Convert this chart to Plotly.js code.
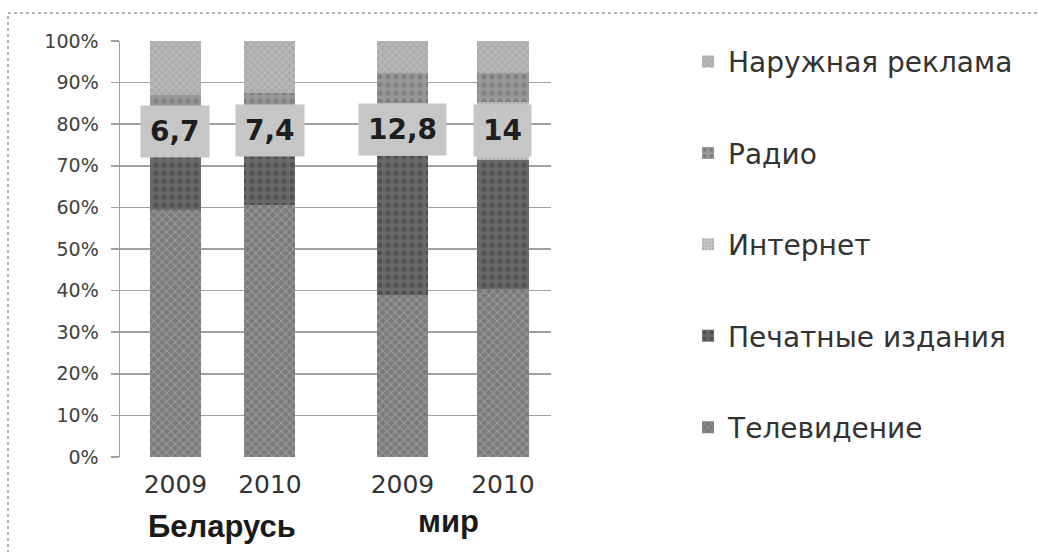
<!DOCTYPE html>
<html>
<head>
<meta charset="utf-8">
<script src="https://cdn.plot.ly/plotly-3.0.1.min.js"></script>
<style>html,body{margin:0;padding:0;background:#fff;}#chart{width:1039px;height:552px;}</style>
</head>
<body>
<div id="chart"></div>
<script>
const groups = ["Беларусь", "Беларусь", "мир", "мир"];
const years = ["2009", "2010", "2009", "2010"];
const seriesNames = ["Телевидение", "Печатные издания", "Интернет", "Радио", "Наружная реклама"];
const tv = [59.4, 60.6, 38.9, 40.3];
const printMedia = [15.6, 14.1, 33.4, 31.1];
const internet = [6.7, 7.4, 12.8, 14.0];
const radio = [5.3, 5.3, 7.3, 7.0];
const outdoor = [13.0, 12.6, 7.6, 7.6];
const internetLabels = ["6,7", "7,4", "12,8", "14"];

const seriesValues = [tv, printMedia, internet, radio, outdoor];
const styles = [
  {bg: "#7a7a7a", fg: "#9c9c9c", shape: "x", size: 6},
  {bg: "#696969", fg: "#505050", shape: ".", size: 8},
  {bg: "#c6c6c6", fg: "#aaaaaa", shape: ".", size: 4},
  {bg: "#989898", fg: "#7e7e7e", shape: ".", size: 8},
  {bg: "#acacac", fg: "#c2c2c2", shape: "x", size: 5}
];
const groupNames = ["Беларусь", "мир"];
const axes = ["x", "x2"];
const widths = [0.54, 0.51];

const traces = [];
seriesValues.forEach((vals, s) => {
  groupNames.forEach((g, gi) => {
    const idx = groups.map((v, i) => v === g ? i : -1).filter(i => i >= 0);
    traces.push({
      type: "bar",
      name: seriesNames[s],
      legendgroup: seriesNames[s],
      legendrank: seriesValues.length - s,
      showlegend: gi === 0,
      x: idx.map(i => years[i]),
      y: idx.map(i => vals[i]),
      xaxis: axes[gi],
      yaxis: "y",
      width: widths[gi],
      marker: {
        color: styles[s].bg,
        line: {width: 0},
        pattern: {shape: styles[s].shape, fgcolor: styles[s].fg, bgcolor: styles[s].bg, size: styles[s].size, solidity: 0.3, fillmode: "replace"}
      },
      hoverinfo: "skip"
    });
  });
});

const annotations = [];
groups.forEach((g, i) => {
  const gi = groupNames.indexOf(g);
  const posInGroup = groups.slice(0, i).filter(v => v === g).length;
  annotations.push({
    xref: axes[gi], yref: "y",
    x: posInGroup, y: tv[i] + printMedia[i] + internet[i] / 2,
    xanchor: "center", yanchor: "middle",
    text: "<b>" + internetLabels[i] + "</b>",
    showarrow: false,
    bgcolor: "#c6c6c6",
    borderpad: 9,
    font: {family: "DejaVu Sans", size: 28, color: "#1e1e1e"}
  });
});
annotations.push({
  xref: "paper", yref: "paper", x: 0.237, y: -0.168, xanchor: "center", yanchor: "middle",
  text: "<b>Беларусь</b>", showarrow: false,
  font: {family: "Liberation Sans", size: 31, color: "#1a1a1a"}
});
annotations.push({
  xref: "paper", yref: "paper", x: 0.763, y: -0.156, xanchor: "center", yanchor: "middle",
  text: "<b>мир</b>", showarrow: false,
  font: {family: "Liberation Sans", size: 31, color: "#1a1a1a"}
});

const xcommon = {
  type: "category",
  showgrid: false,
  zeroline: false,
  showline: false,
  ticks: "",
  ticklabelstandoff: 10,
  tickfont: {family: "DejaVu Sans", size: 25, color: "#333333"},
  fixedrange: true
};

const layout = {
  width: 1039,
  height: 552,
  margin: {l: 120, r: 488, t: 41, b: 95},
  paper_bgcolor: "#ffffff",
  plot_bgcolor: "#ffffff",
  barmode: "stack",
  xaxis: Object.assign({}, xcommon, {domain: [0, 0.501], range: [-0.587, 1.698], anchor: "y"}),
  xaxis2: Object.assign({}, xcommon, {domain: [0.501, 1], range: [-0.662, 1.478], anchor: "y"}),
  yaxis: {
    range: [0, 100],
    dtick: 10,
    ticksuffix: "%",
    showgrid: true,
    gridcolor: "#a0a0a0",
    gridwidth: 1.5,
    zeroline: false,
    showline: true,
    linecolor: "#a0a0a0",
    linewidth: 1.5,
    ticks: "outside",
    ticklen: 8,
    tickcolor: "#a0a0a0",
    tickwidth: 1.5,
    ticklabelstandoff: 8,
    tickfont: {family: "DejaVu Sans", size: 19, color: "#404040"},
    fixedrange: true
  },
  legend: {
    x: 1.318, y: 1.01, xanchor: "left", yanchor: "top",
    traceorder: "grouped",
    tracegroupgap: 52,
    maxheight: 540,
    font: {family: "DejaVu Sans", size: 28, color: "#333333"},
    bgcolor: "rgba(0,0,0,0)"
  },
  annotations: annotations,
  shapes: [{
    type: "rect", xref: "paper", yref: "paper",
    x0: (8 - 120) / 431, x1: (1060 - 120) / 431,
    y0: (457 - 570) / 416, y1: (457 - 13) / 416,
    line: {color: "#9a9a9a", width: 1.5, dash: "dot"},
    fillcolor: "rgba(0,0,0,0)"
  }],
  showlegend: true
};

Plotly.newPlot("chart", traces, layout, {displayModeBar: false, staticPlot: true});
</script>
</body>
</html>
